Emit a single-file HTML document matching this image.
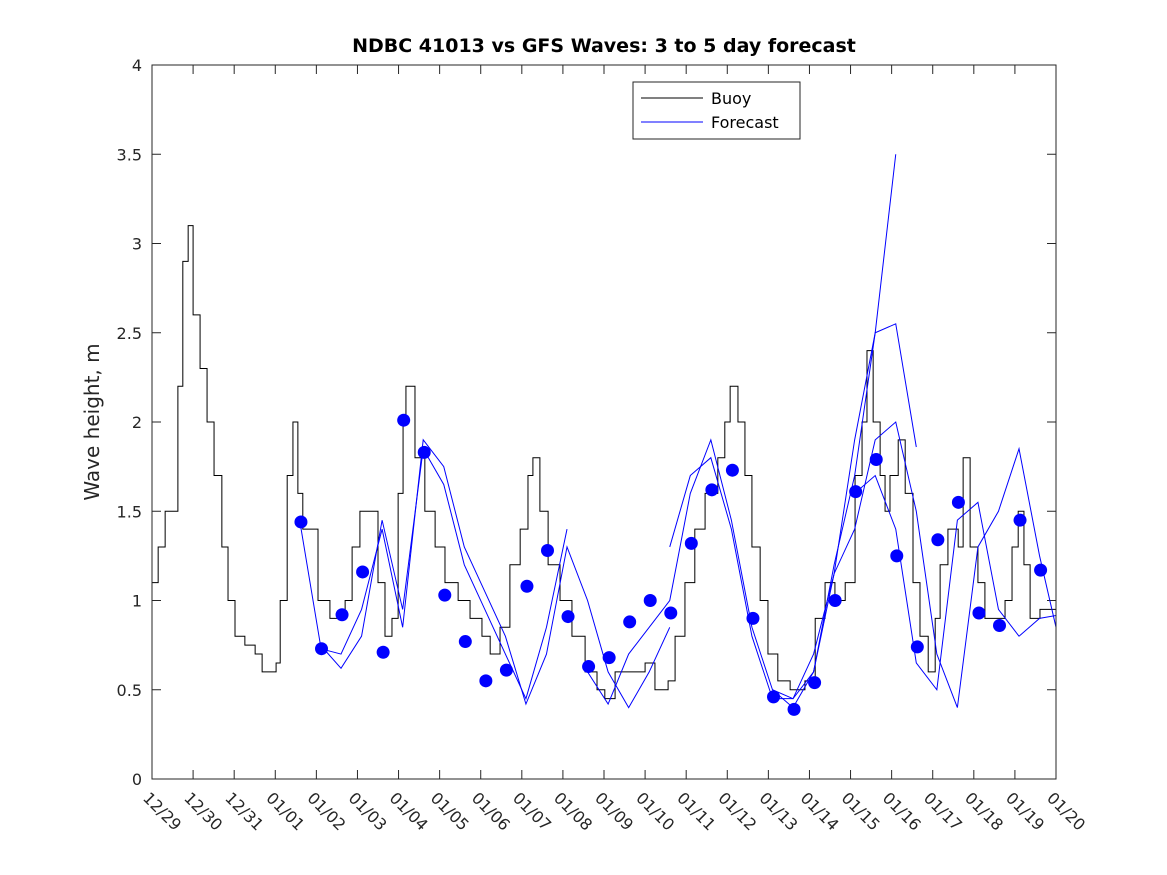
<!DOCTYPE html>
<html><head><meta charset="utf-8"><style>
body{margin:0;background:#fff;}
svg{display:block;font-family:"DejaVu Sans","Liberation Sans",sans-serif;}
</style></head><body>
<svg id="chart" width="1167" height="875" viewBox="0 0 1167 875">
<rect width="1167" height="875" fill="#fff"/>
<text x="604" y="52" text-anchor="middle" font-size="19" font-weight="bold" fill="#000">NDBC 41013 vs GFS Waves: 3 to 5 day forecast</text>
<text transform="translate(99,422) rotate(-90)" text-anchor="middle" font-size="20" fill="#262626">Wave height, m</text>
<defs><clipPath id="pc"><rect x="152" y="65" width="904" height="714"/></clipPath></defs>
<g id="grid"></g>
<g id="marks" clip-path="url(#pc)"></g>
<rect x="152" y="65" width="904" height="714" fill="none" stroke="#262626" stroke-width="1"/>
<g>
<rect x="633" y="82" width="167" height="57" fill="#fff" stroke="#262626"/>
<line x1="641" y1="98" x2="703" y2="98" stroke="#000"/>
<text x="711" y="104" font-size="16" fill="#000">Buoy</text>
<line x1="641" y1="122" x2="703" y2="122" stroke="#0000ff"/>
<text x="711" y="128" font-size="16" fill="#000">Forecast</text>
</g>
</svg>
<script>
const xTickLabels=["12/29","12/30","12/31","01/01","01/02","01/03","01/04","01/05","01/06","01/07","01/08","01/09","01/10","01/11","01/12","01/13","01/14","01/15","01/16","01/17","01/18","01/19","01/20"];
const yTicks=[0,0.5,1,1.5,2,2.5,3,3.5,4];
const yTickLabels=["0","0.5","1","1.5","2","2.5","3","3.5","4"];
const buoyDays=[0,.15,.32,.49,.63,.75,.88,1.0,1.17,1.34,1.51,1.70,1.85,2.02,2.26,2.51,2.68,3.02,3.12,3.29,3.43,3.55,3.67,3.89,4.04,4.33,4.70,4.87,5.06,5.31,5.50,5.67,5.84,5.99,6.11,6.18,6.40,6.64,6.89,7.13,7.45,7.74,8.03,8.23,8.47,8.71,8.96,9.15,9.27,9.44,9.64,9.93,10.22,10.54,10.83,11.02,11.27,11.63,12.0,12.24,12.56,12.73,12.97,13.21,13.46,13.77,13.94,14.07,14.26,14.43,14.60,14.80,14.99,15.23,15.53,15.89,16.14,16.38,16.62,16.87,17.11,17.28,17.40,17.55,17.72,17.84,17.96,18.16,18.33,18.52,18.69,18.89,19.06,19.18,19.37,19.62,19.74,19.91,20.10,20.27,20.52,20.76,20.93,21.08,21.22,21.37,21.61,22];
const buoyVals=[1.1,1.3,1.5,1.5,2.2,2.9,3.1,2.6,2.3,2.0,1.7,1.3,1.0,0.8,0.75,0.7,0.6,0.65,1.0,1.7,2.0,1.6,1.4,1.4,1.0,0.9,1.0,1.3,1.5,1.5,1.1,0.8,0.9,1.6,2.0,2.2,1.8,1.5,1.3,1.1,1.0,0.9,0.8,0.7,0.85,1.2,1.4,1.7,1.8,1.5,1.2,1.0,0.8,0.6,0.5,0.45,0.6,0.6,0.65,0.5,0.55,0.8,1.1,1.4,1.6,1.8,2.0,2.2,2.0,1.7,1.3,1.0,0.7,0.55,0.5,0.55,0.9,1.1,1.0,1.1,1.7,2.0,2.4,2.0,1.7,1.5,1.7,1.9,1.6,1.1,0.8,0.6,0.9,1.2,1.4,1.3,1.8,1.3,1.1,0.9,0.9,1.0,1.3,1.5,1.2,0.9,0.95,1.0];
const dotStart=3.625;
const dotVals=[1.44,0.73,0.92,1.16,0.71,2.01,1.83,1.03,0.77,0.55,0.61,1.08,1.28,0.91,0.63,0.68,0.88,1.00,0.93,1.32,1.62,1.73,0.90,0.46,0.39,0.54,1.00,1.61,1.79,1.25,0.74,1.34,1.55,0.93,0.86,1.45,1.17];
const fcStarts=[3.6,4.1,10.6,12.6,15.1,17.1];
const fc1=[1.44,0.75,0.62,0.8,1.45,0.95,1.85,1.65,1.2,0.95,0.7,0.45,0.85,1.4];
const fc2=[0.73,0.7,0.95,1.4,0.85,1.9,1.75,1.3,1.05,0.8,0.42,0.7,1.3,1.0,0.6,0.4,0.6,0.85];
const fc3=[0.6,0.42,0.7,0.85,1.0,1.6,1.9,1.45,0.85,0.5,0.4,0.6,1.2,1.7,2.5,3.5];
const fc4=[1.3,1.7,1.8,1.4,0.8,0.45,0.45,0.7,1.15,1.9,2.5,2.55,1.86];
const fc5=[0.5,0.45,0.6,1.15,1.4,1.9,2.0,1.5,0.7,0.4,1.3,1.5,1.85,1.25,0.75,0.9,1.75,1.3,0.82];
const fc6=[1.6,1.7,1.4,0.65,0.5,1.45,1.55,0.95,0.8,0.9,0.92,0.85];
const fcSeries=[fc1,fc2,fc3,fc4,fc5,fc6];

const NS="http://www.w3.org/2000/svg";
const X0=152,X1=1056,Y0=779,Y1=65;
const xs=d=>X0+(X1-X0)*d/22;
const ys=v=>Y0-(Y0-Y1)*v/4;
const grid=document.getElementById('grid'),marks=document.getElementById('marks');
function mk(t,p,a){const e=document.createElementNS(NS,t);for(const k in a)e.setAttribute(k,a[k]);p.appendChild(e);return e;}
xTickLabels.forEach((lab,i)=>{
 const x=xs(i);
 const t1=mk('line',grid,{x1:x,y1:Y0,x2:x,y2:Y0-9,stroke:'#262626'});
 
 
 mk('line',grid,{x1:x,y1:Y1,x2:x,y2:Y1+9,stroke:'#262626'});
 const tx=mk('text',grid,{x:0,y:0,'font-size':'16',fill:'#262626',transform:`translate(${x-10},${Y0+20}) rotate(45)`});
 tx.textContent=lab;
 
 
});
yTicks.forEach((v,i)=>{
 const y=ys(v);
 mk('line',grid,{x1:X0,y1:y,x2:X0+9,y2:y,stroke:'#262626'});
 mk('line',grid,{x1:X1,y1:y,x2:X1-9,y2:y,stroke:'#262626'});
 const tx=mk('text',grid,{x:X0-10,y:y+6,'font-size':'16','text-anchor':'end',fill:'#262626'});
 tx.textContent=yTickLabels[i];
 
 
});
let d='';
buoyDays.forEach((t,i)=>{
 const x=xs(t),y=ys(buoyVals[i]);
 if(i===0)d+=`M${x},${y}`;else d+=`H${x}V${y}`;
});
const bl=mk('path',marks,{d:d,fill:'none',stroke:'#000','stroke-width':'1'});


fcSeries.forEach((s,k)=>{
 const pts=s.map((v,i)=>`${xs(fcStarts[k]+0.5*i)},${ys(v)}`).join(' ');
 const pl=mk('polyline',marks,{points:pts,fill:'none',stroke:'#0000ff','stroke-width':'1'});
 
 
});
dotVals.forEach((v,i)=>{
 const c=mk('circle',marks,{cx:xs(dotStart+0.5*i),cy:ys(v),r:6.5,fill:'#0000ff'});
 
 
});
</script>
</body></html>
